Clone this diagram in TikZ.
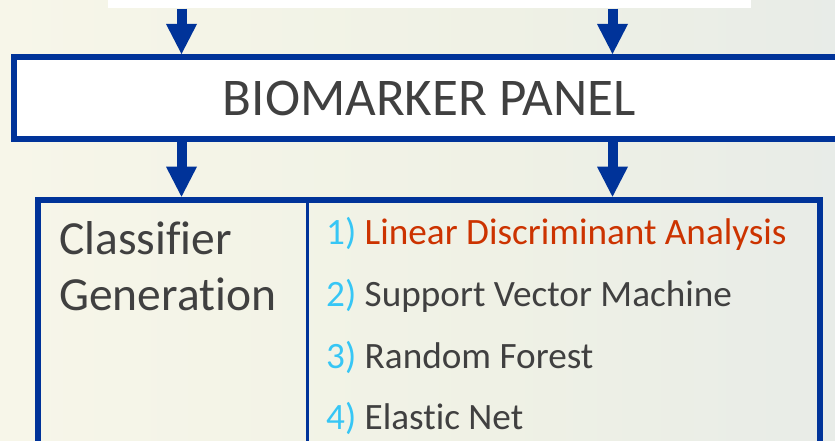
\documentclass[tikz,border=0pt]{standalone}
\usepackage{fontspec}
\setmainfont{Carlito}[Ligatures=NoCommon]
\usetikzlibrary{arrows.meta}

\definecolor{frameblue}{RGB}{0,51,153}
\definecolor{textgray}{RGB}{64,64,64}
\definecolor{numblue}{RGB}{55,198,245}
\definecolor{algred}{RGB}{204,51,0}
\definecolor{bgA}{RGB}{253,252,245}
\definecolor{bgB}{RGB}{247,246,233}
\definecolor{bgC}{RGB}{239,241,229}
\definecolor{bgD}{RGB}{231,235,232}
\definecolor{bgE}{RGB}{226,230,234}

% soft left-to-right backdrop
\pgfdeclarehorizontalshading{backdrop}{100bp}{color(0bp)=(bgA); color(25bp)=(bgB); color(55bp)=(bgC); color(78bp)=(bgD); color(100bp)=(bgE)}

\begin{document}
\begin{tikzpicture}[x=1pt,y=-1pt,
  flowarrow/.style={draw=frameblue, line width=10pt,
    -{Triangle[width=31pt,length=30pt,line width=0pt]}},
  panelbox/.style={draw=frameblue, line width=6pt, fill=white, rectangle,
    inner sep=0pt, text=textgray, font=\fontsize{53}{60}\selectfont},
  clfbox/.style={draw=frameblue, line width=6pt, rectangle, inner sep=0pt},
  headtext/.style={inner sep=0pt, text=textgray, font=\fontsize{47.5}{56}\selectfont},
  itemtext/.style={inner sep=0pt, text=textgray, font=\fontsize{37.2}{44}\selectfont},
  num/.style={text=numblue}]

  \useasboundingbox (0,0) rectangle (835,441);
  \clip (0,0) rectangle (835,441);
  \shade[shading=backdrop] (0,0) rectangle (835,441);

  % source box (cut by the top edge)
  \node[fill=white, inner sep=0pt, minimum width=643pt, minimum height=20pt]
    (src) at (429.5,-1.5) {};

  % biomarker panel, running past the right edge
  \node[panelbox, minimum width=831.5pt, minimum height=82pt]
    (panel) at (429.25,98) {BIOMARKER PANEL};

  % classifier box, running past the bottom edge
  \node[clfbox, minimum width=781.2pt, minimum height=280pt]
    (clf) at (428.9,339.7) {};
  \coordinate (divtop) at (307.3,199.7);
  \draw[frameblue, line width=3pt] (divtop) -- (divtop |- clf.south);

  % arrow columns
  \coordinate (colL) at (181.5,0);
  \coordinate (colR) at (612.5,0);
  \draw[flowarrow] (src.south -| colL) -- (panel.north -| colL);
  \draw[flowarrow] (src.south -| colR) -- (panel.north -| colR);
  \draw[flowarrow] (panel.south -| colL) -- (clf.north -| colL);
  \draw[flowarrow] (panel.south -| colR) -- (clf.north -| colR);

  % left column heading
  \node[headtext, anchor=base west] (h1) at (59,254) {Classifier};
  \node[headtext, anchor=base west] (h2) at (59,310) {Generation};

  % list of classifiers
  \node[itemtext, anchor=base west] (m1) at (326,244)
    {{\color{numblue}1)} {\color{algred}Linear Discriminant Analysis}};
  \node[itemtext, anchor=base west] (m2) at (326,306)
    {{\color{numblue}2)} Support Vector Machine};
  \node[itemtext, anchor=base west] (m3) at (326,368)
    {{\color{numblue}3)} Random Forest};
  \node[itemtext, anchor=base west] (m4) at (326,429)
    {{\color{numblue}4)} Elastic Net};
\end{tikzpicture}
\end{document}
